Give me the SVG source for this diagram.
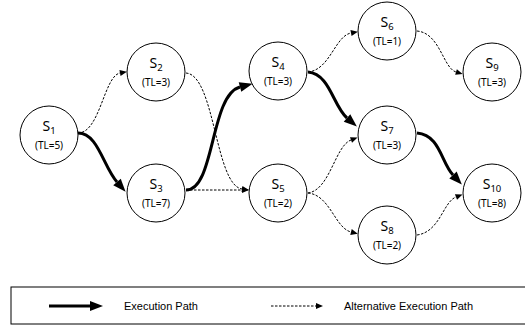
<svg xmlns="http://www.w3.org/2000/svg" width="525" height="327" viewBox="0 0 525 327">
<style>
.node circle{fill:#fff;stroke:#000;stroke-width:1}
.lbl{font-family:"Noto Sans","Open Sans",sans-serif;font-size:14px;text-anchor:middle;fill:#000}
.sub{font-size:9.5px}
.tl{font-family:"Noto Sans","Open Sans",sans-serif;font-size:10px;text-anchor:middle;fill:#000}
.thick{fill:none;stroke:#000;stroke-width:3}
.dash{fill:none;stroke:#000;stroke-width:1;stroke-dasharray:2.5,1.5}
.leg{font-family:"Liberation Sans",Arial,sans-serif;font-size:11px;fill:#000}
</style>
<defs>
<marker id="big" markerUnits="userSpaceOnUse" markerWidth="14" markerHeight="12" refX="0" refY="5" orient="auto" viewBox="0 0 14 10" overflow="visible">
<path d="M0,0 L13,5 L0,10 Z" fill="#000"/>
</marker>
<marker id="small" markerUnits="userSpaceOnUse" markerWidth="8" markerHeight="6" refX="0" refY="3" orient="auto" viewBox="0 0 8 6" overflow="visible">
<path d="M0,0 L7,3 L0,6 Z" fill="#000"/>
</marker>
</defs>
<g id="connectors">
<path class="dash" d="M78,133 C100,133 104,76 120,73" marker-end="url(#small)"/>
<path class="thick" d="M78,133 C98,133 103,166 117,182" marker-end="url(#big)"/>
<path class="dash" d="M186,73 C215,75 215,185 242,189" marker-end="url(#small)"/>
<path class="dash" d="M186,190 L242,190" marker-end="url(#small)"/>
<path class="thick" d="M186,190 C215,190 210,95 240,87" marker-end="url(#big)"/>
<path class="dash" d="M308,72 C330,70 335,36 351,33" marker-end="url(#small)"/>
<path class="thick" d="M308,72 C330,74 333,106 347,118" marker-end="url(#big)"/>
<path class="dash" d="M308,193 C330,190 335,146 351,140" marker-end="url(#small)"/>
<path class="dash" d="M308,193 C330,195 335,228 351,232" marker-end="url(#small)"/>
<path class="dash" d="M417,31 C440,33 443,68 456,72" marker-end="url(#small)"/>
<path class="thick" d="M417,133 C440,135 441,162 453,175" marker-end="url(#big)"/>
<path class="dash" d="M417,235 C440,232 443,202 456,197" marker-end="url(#small)"/>
</g>
<g id="S1" class="node"><circle cx="49" cy="135" r="29"/><text class="lbl" x="49" y="131">S<tspan class="sub" dy="3">1</tspan></text><text class="tl" x="49" y="149">(TL=5)</text></g>
<g id="S2" class="node"><circle cx="156" cy="72" r="29"/><text class="lbl" x="156" y="68">S<tspan class="sub" dy="3">2</tspan></text><text class="tl" x="156" y="86">(TL=3)</text></g>
<g id="S3" class="node"><circle cx="156" cy="193" r="29"/><text class="lbl" x="156" y="189">S<tspan class="sub" dy="3">3</tspan></text><text class="tl" x="156" y="207">(TL=7)</text></g>
<g id="S4" class="node"><circle cx="278" cy="71" r="29"/><text class="lbl" x="278" y="67">S<tspan class="sub" dy="3">4</tspan></text><text class="tl" x="278" y="85">(TL=3)</text></g>
<g id="S5" class="node"><circle cx="278" cy="193" r="29"/><text class="lbl" x="278" y="189">S<tspan class="sub" dy="3">5</tspan></text><text class="tl" x="278" y="207">(TL=2)</text></g>
<g id="S6" class="node"><circle cx="387" cy="31" r="29"/><text class="lbl" x="387" y="27">S<tspan class="sub" dy="3">6</tspan></text><text class="tl" x="387" y="45">(TL=1)</text></g>
<g id="S7" class="node"><circle cx="387" cy="135" r="29"/><text class="lbl" x="387" y="131">S<tspan class="sub" dy="3">7</tspan></text><text class="tl" x="387" y="149">(TL=3)</text></g>
<g id="S8" class="node"><circle cx="387" cy="235" r="29"/><text class="lbl" x="387" y="231">S<tspan class="sub" dy="3">8</tspan></text><text class="tl" x="387" y="249">(TL=2)</text></g>
<g id="S9" class="node"><circle cx="492" cy="72" r="29"/><text class="lbl" x="492" y="68">S<tspan class="sub" dy="3">9</tspan></text><text class="tl" x="492" y="86">(TL=3)</text></g>
<g id="S10" class="node"><circle cx="492" cy="193" r="29"/><text class="lbl" x="492" y="189">S<tspan class="sub" dy="3">10</tspan></text><text class="tl" x="492" y="207">(TL=8)</text></g>
<g id="legend">
<rect x="11" y="287" width="530" height="37" fill="none" stroke="#000" stroke-width="1"/>
<path class="thick" d="M49,306 L90,306" marker-end="url(#big)"/>
<text class="leg" x="124" y="310">Execution Path</text>
<path class="dash" d="M271,306 L316,306" marker-end="url(#small)"/>
<text class="leg" x="344" y="310">Alternative Execution Path</text>
</g>
</svg>
